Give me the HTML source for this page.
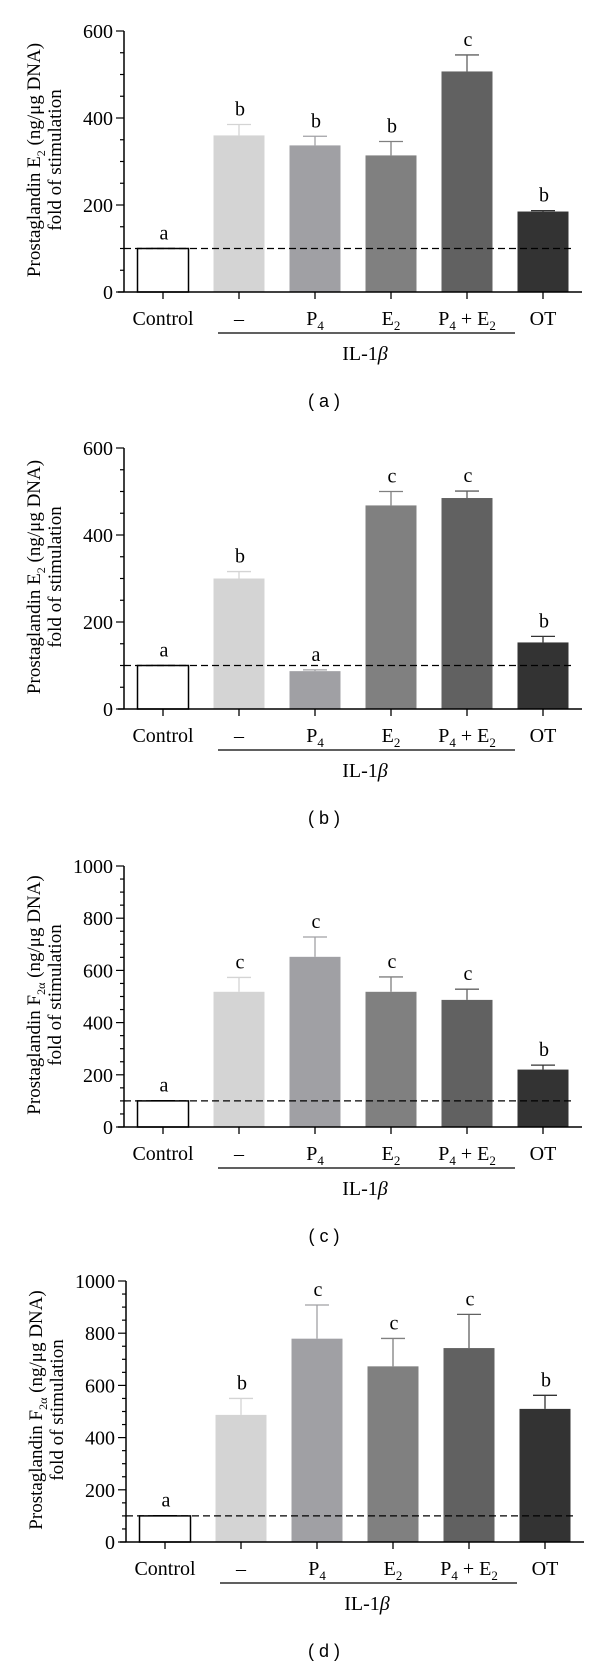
<!DOCTYPE html>
<html><head><meta charset="utf-8"><style>
html,body{margin:0;padding:0;background:#fff;}
svg{display:block;font-family:"Liberation Serif",serif;}
.lab{font-family:"Liberation Sans",sans-serif;}
</style></head><body>
<svg id="fig" width="600" height="1665" viewBox="0 0 600 1665" xmlns="http://www.w3.org/2000/svg"></svg>
<script>
const categories = ["Control","–","P4","E2","P4 + E2","OT"];
const valuesA = [100,360,337,314,507,185];
const errTopA = [100,385,358,346,545,187];
const lettersA = ["a","b","b","b","c","b"];
const valuesB = [100,300,87,468,485,153];
const errTopB = [100,316,90,500,501,167];
const lettersB = ["a","b","a","c","c","b"];
const valuesC = [100,518,652,518,487,220];
const errTopC = [101,573,728,575,528,237];
const lettersC = ["a","c","c","c","c","b"];
const valuesD = [100,487,779,673,743,510];
const errTopD = [101,550,908,780,872,562];
const lettersD = ["a","b","c","c","c","b"];
const ticksE = [0,200,400,600];
const ticksF = [0,200,400,600,800,1000];

const NS="http://www.w3.org/2000/svg";
const svg=document.getElementById('fig');
const colors=["#ffffff","#d4d4d4","#a0a0a4","#808080","#616161","#333333"];
function mk(tag,attrs,parent){const e=document.createElementNS(NS,tag);for(const k in attrs)e.setAttribute(k,attrs[k]);(parent||svg).appendChild(e);return e;}

function catLabel(g,i,x,y){
  const t=mk('text',{x:x,y:y,'text-anchor':'middle','font-size':20},g);
  
  
  const parts={"Control":[["Control",0]],"–":[["–",0]],"P4":[["P",0],["4",1]],"E2":[["E",0],["2",1]],"P4 + E2":[["P",0],["4",1],[" + E",0],["2",1]],"OT":[["OT",0]]}[categories[i]];
  let prevSub=false;
  parts.forEach(p=>{const s=mk('tspan',{},t);s.textContent=p[0];
    if(p[1]){s.setAttribute('font-size',13);s.setAttribute('dy',5);}
    else if(prevSub){s.setAttribute('dy',-5);}
    prevSub=!!p[1];});
}

function panel(name,oy,dx,vals,errs,letters,ticks,ymax,sub,plabel){
  const g=mk('g',{transform:`translate(${dx},${oy})`});
  
  
  const ax=124,y0=292,yTop=31,xEnd=582;
  const Y=v=>y0-(v/ymax)*(y0-yTop);
  const X=i=>163+i*76;
  const bw=51;
  vals.forEach((v,i)=>{
    const c=colors[i];
    const eb=mk('line',{x1:X(i),x2:X(i),y1:Y(v),y2:Y(errs[i]),stroke:i==0?'#000':c,'stroke-width':1.3},g);
    
    
    const cap=mk('line',{x1:X(i)-12,x2:X(i)+12,y1:Y(errs[i]),y2:Y(errs[i]),stroke:i==0?'#000':c,'stroke-width':1.3},g);
    
    
    const r=mk('rect',{x:X(i)-bw/2,y:Y(v),width:bw,height:y0-Y(v),fill:c,stroke:i==0?'#000':'none','stroke-width':i==0?1.5:0},g);
    
    
    const lt=mk('text',{x:X(i)+1,y:Y(errs[i])-9,'text-anchor':'middle','font-size':20},g);
    lt.textContent=letters[i];
    
    
    const tk=mk('line',{x1:X(i),x2:X(i),y1:y0,y2:y0+7,stroke:'#000','stroke-width':1.3},g);
    
    
    catLabel(g,i,X(i),y0+33);
  });
  const d=mk('line',{x1:ax,x2:xEnd-10,y1:Y(100),y2:Y(100),stroke:'#000','stroke-width':1.3,'stroke-dasharray':'7,4'},g);
  
  
  const ya=mk('line',{x1:ax,x2:ax,y1:yTop,y2:y0,stroke:'#000','stroke-width':1.5},g);
  
  
  const xa=mk('line',{x1:ax-6,x2:xEnd,y1:y0,y2:y0,stroke:'#000','stroke-width':1.5},g);
  
  
  for(let v=0;v<=ymax;v+=50){
    const major=ticks.includes(v);
    const t=mk('line',{x1:ax-(major?8:4),x2:ax,y1:Y(v),y2:Y(v),stroke:'#000','stroke-width':1.2},g);
    
    
  }
  ticks.forEach(v=>{
    const t=mk('text',{x:ax-11,y:Y(v)+7,'text-anchor':'end','font-size':20},g);
    t.textContent=v;
    
    
  });
  const tt=mk('text',{transform:'translate(40,160) rotate(-90)','text-anchor':'middle','font-size':19},g);
  
  
  const s1=mk('tspan',{},tt);s1.textContent='Prostaglandin '+(sub=='2'?'E':'F');
  const s2=mk('tspan',{dy:5,'font-size':12},tt);s2.textContent=sub=='2'?'2':'2α';
  const s3=mk('tspan',{dy:-5},tt);s3.textContent='  (ng/μg DNA)';
  const tt2=mk('text',{transform:'translate(61,160) rotate(-90)','text-anchor':'middle','font-size':19},g);
  tt2.textContent='fold of stimulation';
  
  
  const ul=mk('line',{x1:218,x2:515,y1:333,y2:333,stroke:'#000','stroke-width':1.3},g);
  
  
  const il=mk('text',{x:365,y:360,'text-anchor':'middle','font-size':20},g);
  
  
  const i1=mk('tspan',{},il);i1.textContent='IL-1';
  const i2=mk('tspan',{'font-style':'italic'},il);i2.textContent='β';
  const pl=mk('text',{x:324-dx,y:407,'text-anchor':'middle','font-size':18,'class':'lab'},g);
  pl.textContent='( '+plabel+' )';
  
  
}
panel('panel-a',0,0,valuesA,errTopA,lettersA,ticksE,600,'2','a');
panel('panel-b',417,0,valuesB,errTopB,lettersB,ticksE,600,'2','b');
panel('panel-c',835,0,valuesC,errTopC,lettersC,ticksF,1000,'2a','c');
panel('panel-d',1250,2,valuesD,errTopD,lettersD,ticksF,1000,'2a','d');
</script>
</body></html>
